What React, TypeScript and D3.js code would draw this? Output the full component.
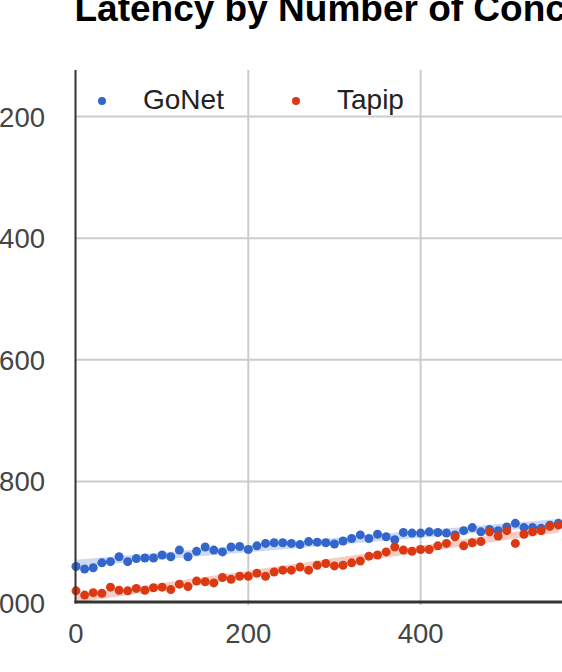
import React from "react";
import * as d3 from "d3";

const title = "Latency by Number of Concurrent Connections";
const seriesNames = ["GoNet", "Tapip"];
const seriesColors = ["#3366cc", "#dc3912"];
const xValues = d3.range(0, 570, 10);
const gonet = [940, 944, 942, 934, 932, 924, 932, 927, 926, 926, 921, 924, 913, 924, 915, 908, 913, 916, 908, 907, 912, 906, 902, 901, 901, 902, 904, 899, 900, 901, 903, 898, 894, 888, 894, 887, 891, 896, 884, 885, 885, 883, 884, 885, 888, 881, 876, 883, 879, 881, 875, 869, 876, 876, 877, 872, 869];
const tapip = [980, 987, 983, 984, 974, 979, 980, 976, 979, 975, 974, 978, 969, 973, 964, 965, 967, 958, 961, 956, 956, 951, 956, 949, 946, 946, 941, 946, 938, 935, 939, 938, 934, 931, 923, 921, 916, 908, 913, 915, 912, 912, 906, 902, 891, 906, 901, 899, 883, 890, 881, 902, 887, 883, 881, 874, 872];
const yTicks = [200, 400, 600, 800, 1000];
const xTicks = [0, 200, 400];

const W = 562;
const H = 672;
const FONT = "'Liberation Sans', Arial, sans-serif";

function fit(xs: number[], ys: number[]) {
  const mx = d3.mean(xs)!;
  const my = d3.mean(ys)!;
  let num = 0, den = 0;
  xs.forEach((x, i) => { num += (x - mx) * (ys[i] - my); den += (x - mx) * (x - mx); });
  const b = num / den;
  return (x: number) => my + b * (x - mx);
}

export default function App() {
  const x = d3.scaleLinear().domain([0, 200]).range([76, 248.3]);
  const y = d3.scaleLinear().domain([200, 1000]).range([116.5, 603]);
  const plotTop = 70;
  const plotBottom = 602;
  const plotLeft = 75.5;
  const series = [gonet, tapip];
  const xMax = d3.max(xValues)!;

  return (
    <svg width={W} height={H} style={{ position: "absolute", left: 0, top: 0, background: "#fff" }} fontFamily={FONT}>
      <rect width={W} height={H} fill="#fff" />
      <text x={74.5} y={20.5} fontSize={37} fontWeight="bold" fill="#000">{title}</text>
      {yTicks.slice(0, 4).map((t) => (
        <line key={"gy" + t} x1={plotLeft} x2={W} y1={y(t)} y2={y(t)} stroke="#cccccc" strokeWidth={2} />
      ))}
      {xTicks.slice(1).map((t) => (
        <line key={"gx" + t} x1={x(t)} x2={x(t)} y1={plotTop} y2={plotBottom + 3} stroke="#cccccc" strokeWidth={2} />
      ))}
      {yTicks.map((t) => (
        <text key={"ly" + t} x={45} y={y(t) + 10} fontSize={27.5} textAnchor="end" fill="#444">{t}</text>
      ))}
      {xTicks.map((t) => (
        <text key={"lx" + t} x={x(t)} y={643} fontSize={27.5} textAnchor="middle" fill="#444">{t}</text>
      ))}
      {series.map((s, i) => {
        const f = fit(xValues, s);
        return (
          <line key={"tr" + i} x1={x(0)} x2={x(xMax)} y1={y(f(0))} y2={y(f(xMax))}
            stroke={seriesColors[i]} strokeOpacity={0.25} strokeWidth={7} />
        );
      })}
      {series.map((s, i) => (
        <g key={"s" + i} fill={seriesColors[i]}>
          {s.map((v, j) => (
            <circle key={j} cx={x(xValues[j])} cy={y(v)} r={4.5} />
          ))}
        </g>
      ))}
      <line x1={plotLeft} x2={plotLeft} y1={plotTop} y2={plotBottom + 1.5} stroke="#333" strokeWidth={2} />
      <line x1={plotLeft - 1} x2={W} y1={plotBottom} y2={plotBottom} stroke="#333" strokeWidth={3} />
      {seriesNames.map((n, i) => (
        <g key={"lg" + i}>
          <circle cx={[102, 296][i]} cy={101} r={4} fill={seriesColors[i]} />
          <text x={[143, 337][i]} y={108.5} fontSize={28} fill="#222">{n}</text>
        </g>
      ))}
    </svg>
  );
}
